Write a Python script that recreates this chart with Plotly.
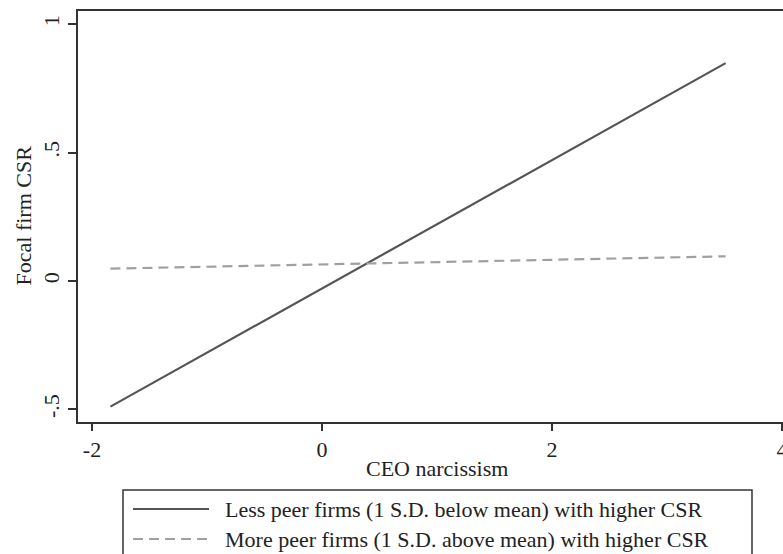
import plotly.graph_objects as go

# Data
x_vals = [-1.84, 3.51]
less_peer = [-0.489, 0.848]
more_peer = [0.048, 0.096]
series_names = [
    "Less peer firms (1 S.D. below mean) with higher CSR",
    "More peer firms (1 S.D. above mean) with higher CSR",
]
x_tickvals = [-2, 0, 2, 4]
x_ticktext = ["-2", "0", "2", "4"]
y_tickvals = [-0.5, 0, 0.5, 1]
y_ticktext = ["-.5", "0", ".5", "1"]

FONT = "Liberation Serif"
FS = 22
W, H = 783, 554
L, R, T = 78, 0, 11
B = H - 422
PW = W - L - R
PH = H - T - B

def px(xpage):
    return (xpage - L) / PW

def py(ypage):
    return (H - B - ypage) / PH

solid_col = "#555555"
dash_col = "#a0a0a0"

fig = go.Figure()
fig.add_trace(go.Scatter(x=x_vals, y=less_peer, mode="lines", name=series_names[0],
                         line=dict(color=solid_col, width=2.2), showlegend=False))
fig.add_trace(go.Scatter(x=x_vals, y=more_peer, mode="lines", name=series_names[1],
                         line=dict(color=dash_col, width=2.2, dash="10px,6px"), showlegend=False))

axis_col = "#333333"
fig.update_layout(
    width=W, height=H,
    margin=dict(l=L, r=R, t=T, b=B, autoexpand=False),
    paper_bgcolor="white", plot_bgcolor="white",
    font=dict(family=FONT, size=FS, color="#222222"),
    xaxis=dict(range=[-2.122, 4.009], tickvals=x_tickvals, ticktext=x_ticktext,
               showgrid=False, zeroline=False, showline=True, linecolor=axis_col, linewidth=1.5,
               mirror=True, ticks="outside", ticklen=7, tickwidth=1.5, tickcolor=axis_col,
               ticklabeloverflow="allow", automargin=False),
    yaxis=dict(range=[-0.549, 1.051], tickvals=y_tickvals, ticktext=y_ticktext,
               showgrid=False, zeroline=False, showline=True, linecolor=axis_col, linewidth=1.5,
               ticks="outside", ticklen=8, tickwidth=1.5, tickcolor=axis_col, tickangle=-90,
               automargin=False),
)

# Axis titles
fig.add_annotation(text="CEO narcissism", x=px(437), y=py(468), xref="paper", yref="paper",
                   showarrow=False, xanchor="center", yanchor="middle", font=dict(size=FS))
fig.add_annotation(text="Focal firm CSR", x=px(23), y=py(215.5), xref="paper", yref="paper",
                   showarrow=False, xanchor="center", yanchor="middle", textangle=-90,
                   font=dict(size=FS))

# Legend box (manual, extends past bottom edge as in the reference)
fig.add_shape(type="rect", xref="paper", yref="paper", x0=px(123), x1=px(752),
              y0=py(580), y1=py(490), line=dict(color=axis_col, width=1.5), fillcolor="white")
leg_rows = [(509, solid_col, "solid"), (539, dash_col, "10px,6px")]
for (yy, col, dsh), name in zip(leg_rows, series_names):
    fig.add_shape(type="line", xref="paper", yref="paper", x0=px(133), x1=px(209),
                  y0=py(yy), y1=py(yy), line=dict(color=col, width=2.2, dash=dsh))
    fig.add_annotation(text=name, x=px(223), y=py(yy), xref="paper", yref="paper",
                       showarrow=False, xanchor="left", yanchor="middle", font=dict(size=FS))

fig.write_html(
    "out.html",
    config={"displayModeBar": False},
    post_script="document.body.style.margin='0';document.body.style.overflow='hidden';",
)
